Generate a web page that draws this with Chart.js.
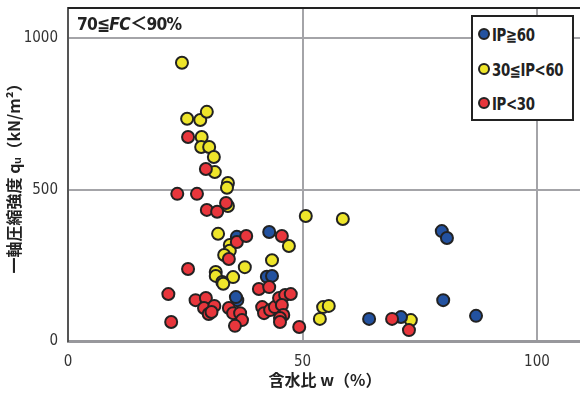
<!DOCTYPE html>
<html>
<head>
<meta charset="utf-8">
<script src="https://cdn.jsdelivr.net/npm/chart.js@4"></script>
<style>
  html, body { margin: 0; background: #fff; overflow: hidden; }
  #wrap { position: relative; width: 580px; height: 394px; overflow: hidden; }
  #chart { position: absolute; left: 0; top: 0; }
  .note {
    position: absolute; left: 77px; top: 9px;
    font: bold 18px 'Liberation Sans Narrow', 'DejaVu Sans Condensed', 'Noto Sans CJK JP', sans-serif;
    color: #222; letter-spacing: -0.8px;
    transform: scaleX(0.96); transform-origin: left center;
  }
  .legend {
    position: absolute; left: 471px; top: 15px; width: 99px; height: 102px;
    border: 2px solid #222; background: #fff;
    font: bold 17px 'Liberation Sans Narrow', 'DejaVu Sans Condensed', 'Noto Sans CJK JP', sans-serif;
    color: #222; letter-spacing: -0.4px;
  }
  .legend div { position: absolute; left: 5px; height: 20px; line-height: 20px; white-space: nowrap; }
  .legend span.dot {
    display: inline-block; width: 8px; height: 8px; border: 2px solid #222; border-radius: 50%;
    vertical-align: 1px; margin-right: 2px;
  }
  .legend span.txt { display: inline-block; transform: scaleX(0.87); transform-origin: left center; }
</style>
</head>
<body>
<div id="wrap">
  <canvas id="chart" width="590" height="394"></canvas>
  <div class="note">70≦<i>FC</i>＜90%</div>
  <div class="legend">
    <div style="top:8px"><span class="dot" style="background:#2352a0"></span><span class="txt">IP≧60</span></div>
    <div style="top:43px"><span class="dot" style="background:#eee52a"></span><span class="txt">30≦IP&lt;60</span></div>
    <div style="top:77px"><span class="dot" style="background:#e8363c"></span><span class="txt">IP&lt;30</span></div>
  </div>
</div>
<script>
// water content w (%) and unconfined strength qu (kN/m2)
const blueW  = [36.0, 36.1, 35.8, 42.9, 42.4, 43.5, 79.7, 80.8, 80.0, 87.0, 64.2, 71.0];
const blueQu = [344, 135, 145, 360, 212, 215, 363, 340, 135, 83, 73, 79];

const yellowW  = [24.3, 25.4, 28.2, 29.6, 28.5, 28.4, 30.1, 31.1, 31.3, 34.1, 33.9, 34.1, 32.0, 34.5, 34.5,
                  33.3, 37.7, 31.5, 31.5, 35.2, 32.9, 33.1, 43.5, 47.1, 50.7, 58.6, 54.4, 55.6, 53.7, 73.1];
const yellowQu = [919, 734, 730, 757, 674, 641, 641, 608, 558, 522, 506, 446, 354, 317, 298,
                  284, 244, 228, 215, 211, 195, 189, 267, 314, 413, 403, 112, 116, 73, 69];

const redW  = [25.6, 29.4, 23.3, 27.5, 29.6, 31.8, 33.7, 36.0, 38.0, 34.3, 25.6, 21.4, 27.2, 29.4, 29.0,
               31.2, 30.0, 30.6, 34.3, 35.2, 36.7, 37.1, 35.6, 22.0, 45.6, 40.7, 42.9, 41.4, 41.8, 43.1,
               44.1, 45.0, 46.3, 47.5, 45.6, 45.9, 45.2, 45.2, 49.3, 69.1, 72.7];
const redQu = [674, 568, 486, 486, 433, 427, 456, 327, 347, 271, 238, 155, 135, 142, 109,
               116, 89, 96, 109, 92, 92, 69, 50, 63, 347, 172, 178, 112, 92, 102,
               112, 142, 152, 155, 119, 86, 76, 63, 46, 73, 36];

const xTicks = [0, 50, 100];
const yTicks = [0, 500, 1000];

const toPoints = (xs, ys) => xs.map((x, i) => ({ x: x, y: ys[i] }));

const tickFont = { family: "'Liberation Sans Narrow', 'DejaVu Sans Condensed', sans-serif", size: 15 };
const titleFont = { family: "'Liberation Sans Narrow', 'Noto Sans CJK JP', sans-serif", size: 16, weight: 'bold' };

const pointStyle = (color, order) => ({
  backgroundColor: color,
  borderColor: '#222',
  borderWidth: 2,
  pointRadius: 6,
  order: order
});

const noPad = axis => {
  axis.paddingLeft = 0; axis.paddingRight = 0; axis.paddingTop = 0; axis.paddingBottom = 0;
};

const chart = new Chart(document.getElementById('chart'), {
  type: 'scatter',
  data: {
    datasets: [
      { label: 'IP≧60', data: toPoints(blueW, blueQu), ...pointStyle('#2352a0', 1) },
      { label: '30≦IP<60', data: toPoints(yellowW, yellowQu), ...pointStyle('#eee52a', 2) },
      { label: 'IP<30', data: toPoints(redW, redQu), ...pointStyle('#e8363c', 0) }
    ]
  },
  options: {
    responsive: false,
    animation: false,
    layout: { padding: { top: 7, right: 0, left: 0, bottom: 0 } },
    plugins: { legend: { display: false }, tooltip: { enabled: false } },
    scales: {
      x: {
        min: 0,
        max: 110,
        afterBuildTicks: axis => { axis.ticks = xTicks.map(v => ({ value: v })); },
        afterFit: axis => { axis.height = 53; noPad(axis); },
        ticks: { font: tickFont, color: '#333', padding: 12, callback: v => String(v) },
        grid: { color: '#a4a4a8', lineWidth: 2, drawTicks: false },
        border: { color: '#98989c', width: 3 },
        title: { display: true, text: '含水比 w（%）', font: titleFont, color: '#222', padding: { top: 0 } }
      },
      y: {
        min: 0,
        max: 1100,
        afterBuildTicks: axis => { axis.ticks = yTicks.map(v => ({ value: v })); },
        afterFit: axis => { axis.width = 68; noPad(axis); },
        ticks: { font: tickFont, color: '#333', padding: 10, callback: v => String(v) },
        grid: { color: '#a4a4a8', lineWidth: 2, drawTicks: false },
        border: { color: '#555', width: 2 },
        title: { display: true, text: '一軸圧縮強度 qᵤ（kN/m²）', font: titleFont, color: '#222', padding: { bottom: 3 } }
      }
    }
  },
  plugins: [{
    id: 'topFrame',
    afterDraw: c => {
      const { ctx, chartArea } = c;
      ctx.save();
      ctx.strokeStyle = '#222';
      ctx.lineWidth = 2;
      ctx.beginPath();
      ctx.moveTo(chartArea.left, chartArea.top);
      ctx.lineTo(c.width, chartArea.top);
      ctx.stroke();
      ctx.restore();
    }
  }]
});

// the plot runs past the right edge of the picture: w = 100 sits at x = 537
const area = chart.chartArea;
chart.options.scales.x.max = 100 * (area.right - area.left) / (537 - area.left);
chart.update();
</script>
</body>
</html>
